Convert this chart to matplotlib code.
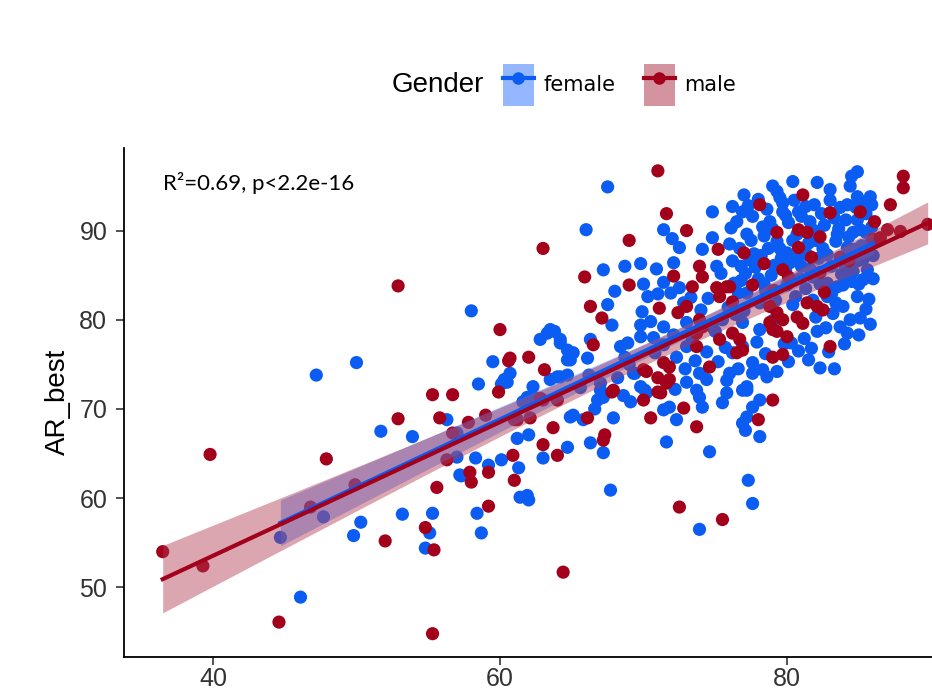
import numpy as np
import matplotlib
matplotlib.use('Agg')
import matplotlib.pyplot as plt
from matplotlib.patches import Patch
from matplotlib.lines import Line2D

plt.rcParams['font.family'] = ['Liberation Sans', 'DejaVu Sans']

# (x, AR_best)
female_pts = [
    (44.7, 55.6), (46.1, 48.9), (47.7, 57.9), (51.7, 67.5), (53.9, 66.9), (50.3, 57.3), (49.8, 55.8),
    (53.2, 58.2), (55.3, 58.3), (55.1, 56.1), (54.8, 54.4), (56.3, 68.8), (57.0, 67.3), (57.0, 64.6),
    (57.3, 62.5), (58.3, 64.5), (59.2, 63.7), (60.1, 64.3), (58.4, 58.3), (58.7, 56.1), (61.2, 66.7),
    (61.3, 63.4), (61.4, 60.1), (47.2, 73.8), (50.0, 75.2), (58.0, 81.0), (59.5, 75.3), (58.5, 72.8),
    (60.1, 72.8), (60.5, 73.0), (63.3, 78.5),
    (67.5, 94.9), (66.0, 90.1), (71.4, 90.1), (72.0, 89.1), (72.5, 88.1), (74.8, 92.1), (76.2, 92.7),
    (74.8, 89.2), (74.1, 87.9), (67.2, 85.6), (68.7, 86.0), (69.8, 86.3), (70.9, 85.7), (72.1, 86.4),
    (71.4, 84.2), (75.1, 86.0), (67.5, 81.7), (67.8, 79.4), (70.3, 82.6), (69.9, 80.9), (69.8, 79.4),
    (70.5, 79.8), (71.9, 83.0), (72.8, 81.9), (73.0, 79.7), (66.3, 77.8), (68.9, 77.4), (70.7, 78.0),
    (63.5, 78.9), (63.8, 78.7), (64.2, 77.8), (64.7, 76.6), (64.9, 75.5), (62.8, 77.8), (66.1, 75.7),
    (60.3, 73.3), (60.7, 74.0), (62.3, 72.5), (63.5, 73.3), (64.0, 73.6), (64.7, 73.8), (61.9, 71.3),
    (68.4, 77.0), (68.7, 75.8), (69.8, 78.1), (71.4, 79.2), (69.4, 74.0), (69.8, 72.5), (70.2, 71.8),
    (67.0, 72.9), (67.2, 71.3), (72.3, 75.8), (73.0, 77.0), (73.4, 77.8), (73.9, 74.0), (74.4, 73.3),
    (73.9, 71.3), (74.8, 79.2), (75.5, 80.0), (76.2, 76.3), (76.9, 77.0), (77.6, 75.2), (78.3, 74.4),
    (75.8, 71.8), (77.2, 72.5), (78.1, 71.0),
    (84.9, 96.6), (84.5, 96.1), (80.4, 95.5), (83.0, 94.6), (84.9, 93.8), (79.3, 94.4), (79.5, 93.7),
    (79.7, 93.1), (79.7, 92.1), (80.8, 92.1), (81.0, 91.6), (83.7, 92.6), (84.2, 92.9), (84.9, 91.2),
    (85.1, 90.1), (84.6, 89.8), (81.6, 91.0), (78.3, 90.4), (77.6, 91.6), (76.9, 92.1), (82.1, 78.7),
    (83.7, 79.2), (84.2, 78.5), (85.1, 80.2), (84.9, 82.6), (85.3, 84.5), (85.6, 85.6), (83.5, 83.7),
    (83.9, 81.5), (82.8, 82.6), (77.2, 83.0), (78.1, 81.9), (76.9, 79.7), (78.1, 78.9),
    (81.5, 75.5), (82.3, 74.6), (83.3, 74.5), (80.1, 75.3), (79.3, 74.2), (78.6, 73.6), (77.6, 74.0),
    (77.2, 72.1), (77.6, 70.2), (77.2, 69.1), (77.1, 67.6), (78.1, 66.9), (77.3, 62.0), (77.6, 59.4),
    (67.7, 60.9), (73.9, 56.5), (74.6, 65.2), (71.6, 66.3), (75.5, 70.7), (72.3, 68.8), (71.4, 69.9),
    (67.2, 65.1), (66.3, 66.2), (65.8, 68.8), (67.9, 69.0), (65.1, 69.3), (69.3, 74.0), (70.1, 72.1),
    (69.1, 70.8), (66.8, 71.0), (67.0, 72.1), (73.7, 72.1), (74.1, 70.2), (71.8, 70.2), (76.9, 72.1),
    (76.9, 68.4), (76.0, 74.0),
    (64.2, 73.6), (64.7, 75.5), (65.1, 76.3), (64.2, 77.4), (61.6, 70.8), (62.3, 71.3), (62.0, 67.1),
    (64.9, 69.1), (64.7, 65.7), (63.0, 64.5), (57.2, 62.6), (61.9, 60.3), (62.0, 59.8),
    # dense cluster
    (76.0, 88.5), (76.8, 86.0), (77.5, 88.9), (78.2, 87.2), (78.9, 85.0), (79.5, 88.0), (80.2, 86.4),
    (80.9, 84.6), (81.5, 88.6), (82.2, 86.9), (82.8, 84.1), (83.4, 88.8), (84.0, 86.2), (84.7, 87.9),
    (85.3, 86.8), (85.8, 88.6), (76.3, 84.1), (77.0, 81.0), (77.8, 85.9), (78.5, 83.3), (79.2, 82.2),
    (80.0, 83.9), (80.6, 82.6), (81.3, 83.5), (82.0, 80.3), (82.7, 79.1), (83.2, 80.7), (84.4, 80.0),
    (85.0, 84.0), (85.7, 82.3), (76.1, 90.3), (77.2, 89.6), (78.8, 91.0), (80.1, 90.9), (81.9, 92.9),
    (82.6, 90.6), (83.3, 91.4), (84.3, 89.3), (85.5, 91.9), (85.9, 90.4), (75.4, 85.2), (75.9, 81.4),
    (76.6, 83.0), (77.4, 86.7), (78.0, 84.6), (78.7, 88.0), (79.6, 86.9), (80.4, 88.9), (81.0, 86.0),
    (81.8, 84.8), (82.5, 88.0), (83.1, 86.0), (83.8, 85.1), (84.5, 84.3), (85.2, 88.3), (79.0, 79.9),
    (80.3, 77.4), (81.2, 77.9), (81.7, 76.8), (82.9, 76.4), (84.0, 77.3), (85.0, 78.3), (85.8, 79.5),
    (74.5, 82.4), (74.0, 81.1), (75.0, 78.7), (76.4, 80.6), (73.3, 82.5), (72.5, 83.6), (71.0, 82.9),
    (70.0, 84.0), (68.0, 83.2), (74.4, 76.4), (75.2, 75.3), (75.7, 76.9), (72.9, 74.5), (72.2, 72.2),
    (73.0, 73.0), (71.4, 77.2), (72.1, 78.3), (69.0, 75.0), (68.2, 73.5), (66.2, 73.8), (65.6, 72.4),
    (66.6, 70.0), (68.6, 71.5), (70.8, 76.3), (73.6, 75.4), (75.8, 73.2), (76.6, 74.5), (77.9, 77.5),
    (78.5, 76.2), (79.8, 77.3), (80.8, 76.5),
    (76.5, 91.0), (77.3, 92.8), (78.0, 93.5), (78.6, 92.4), (79.0, 90.2), (79.9, 91.7), (80.5, 93.4),
    (81.3, 92.7), (81.9, 90.0), (82.4, 91.9), (83.0, 93.4), (83.6, 90.2), (84.1, 91.2), (84.8, 92.6),
    (85.4, 93.2), (85.9, 92.9), (76.7, 88.0), (77.7, 87.4), (78.4, 89.4), (79.3, 88.8), (80.0, 87.5),
    (80.7, 89.6), (81.4, 87.3), (82.0, 88.9), (82.8, 87.3), (83.5, 89.6), (84.2, 88.1), (84.9, 86.6),
    (85.5, 89.8), (86.0, 87.2), (76.2, 86.6), (77.1, 85.2), (78.1, 86.6), (79.1, 86.1), (79.9, 85.6),
    (80.8, 87.1), (81.6, 85.7), (82.3, 84.0), (83.1, 82.9), (83.9, 83.9), (84.6, 85.4), (85.3, 87.5),
    (76.8, 84.4), (78.4, 84.0), (80.4, 81.7), (81.8, 82.2), (83.4, 81.9), (85.5, 81.2), (86.0, 84.6),
    (85.8, 93.8), (84.4, 95.0), (82.1, 95.4), (79.0, 95.0), (77.0, 94.0),
]

male_pts = [
    (36.5, 54.0), (39.3, 52.4), (39.8, 64.9), (44.6, 46.1), (47.9, 64.4), (49.9, 61.5), (46.8, 59.0),
    (52.0, 55.2), (52.9, 68.9), (54.8, 56.7), (55.4, 54.2), (55.3, 44.8), (55.6, 61.2), (56.3, 64.3),
    (56.7, 67.3), (55.8, 69.0), (57.8, 68.5), (59.0, 69.3), (57.9, 62.9), (59.2, 62.9), (58.0, 61.8),
    (59.2, 59.1), (60.9, 64.8), (61.0, 62.0), (61.0, 68.8), (52.9, 83.8), (60.0, 78.9), (60.6, 75.4),
    (55.3, 71.6), (56.7, 71.6), (59.9, 71.9),
    (63.0, 88.0), (71.0, 96.7), (71.6, 91.9), (73.0, 90.0), (69.0, 88.9), (65.9, 84.8), (69.0, 83.9),
    (72.1, 84.9), (73.9, 86.0), (74.1, 84.8), (73.4, 83.7), (75.1, 83.6), (75.2, 87.9), (66.3, 81.5),
    (67.1, 80.2), (71.1, 81.3), (72.4, 80.8), (73.9, 80.0), (76.0, 83.7), (76.2, 82.0), (66.5, 77.2),
    (60.7, 75.7), (62.0, 75.8), (63.1, 74.4), (70.0, 74.4), (71.0, 73.5), (71.2, 71.8), (71.6, 72.9),
    (67.9, 72.1), (74.6, 74.7), (73.7, 78.5), (74.1, 79.2), (76.2, 78.5), (76.7, 77.8), (75.3, 77.8),
    (79.0, 71.0), (76.5, 76.3), (62.8, 71.2),
    (88.1, 96.1), (88.1, 94.8), (81.1, 94.0), (78.1, 92.9), (87.2, 92.9), (83.0, 92.0), (85.1, 92.1),
    (86.1, 91.0), (87.0, 90.1), (87.9, 89.9), (89.8, 90.7), (79.3, 89.8), (81.4, 89.8), (82.3, 89.3),
    (80.8, 90.1), (86.0, 89.0), (86.5, 89.2), (80.8, 88.1), (81.7, 87.0), (79.7, 85.6), (77.6, 83.9),
    (82.3, 85.3), (83.7, 87.0), (78.8, 81.5), (79.3, 80.8), (79.7, 80.0), (81.4, 81.9), (82.1, 81.5),
    (82.5, 81.1), (80.7, 80.3), (81.1, 79.6), (79.3, 78.7), (80.0, 78.1), (83.0, 77.0),
    (79.7, 76.1), (79.0, 75.8), (78.0, 68.8), (75.8, 83.7), (75.3, 82.6), (78.8, 79.7), (79.0, 78.9),
    (73.0, 81.5), (77.0, 87.5), (78.4, 86.3), (80.1, 84.8), (82.6, 83.1), (84.3, 86.6), (79.1, 83.3),
    (72.5, 59.0), (75.5, 57.6), (73.7, 68.0), (72.8, 70.1), (70.5, 69.0), (67.3, 67.1), (67.2, 66.5),
    (66.1, 69.0), (67.8, 71.9), (70.0, 71.0), (71.0, 71.9), (70.2, 74.2), (71.8, 74.7), (71.8, 73.3),
    (71.4, 75.2), (73.7, 77.0), (76.9, 76.6),
    (63.0, 71.0), (64.0, 71.0), (61.2, 68.8), (62.1, 69.0), (63.7, 67.9), (63.0, 66.0), (64.0, 64.8),
    (64.4, 51.7),
]

groups = ['female', 'male']
colors = {'female': '#0a5cf2', 'male': '#a3001c'}
band_colors = {'female': '#3f7dff', 'male': '#b03a50'}
stat_label = 'R²=0.69, p<2.2e-16'


def fit_band(x, y):
    n = len(x)
    slope, icpt = np.polyfit(x, y, 1)
    xs = np.linspace(x.min(), x.max(), 100)
    res = y - (icpt + slope * x)
    s = np.sqrt((res ** 2).sum() / (n - 2))
    se = s * np.sqrt(1 / n + (xs - x.mean()) ** 2 / ((x - x.mean()) ** 2).sum())
    return xs, icpt + slope * xs, 1.97 * se


fig = plt.figure(figsize=(9.32, 6.9), dpi=100)
ax = fig.add_axes([0.133, 0.048, 0.867, 0.738])

data = {'female': np.array(female_pts), 'male': np.array(male_pts)}
for g in groups:
    ax.scatter(data[g][:, 0], data[g][:, 1], s=90, color=colors[g], edgecolors='none', zorder=2)

for g in groups:
    xs, ys, ci = fit_band(data[g][:, 0], data[g][:, 1])
    ax.fill_between(xs, ys - ci, ys + ci, color=band_colors[g], alpha=0.45, lw=0, zorder=3)
    ax.plot(xs, ys, color=colors[g], lw=3, zorder=4)

ax.set_xlim(33.8, 90.1)
ax.set_ylim(42.2, 99.3)
ax.set_xticks([40, 60, 80])
ax.set_yticks([50, 60, 70, 80, 90])
ax.spines[['top', 'right']].set_visible(False)
for sp in ['left', 'bottom']:
    ax.spines[sp].set_linewidth(1.3)
ax.tick_params(labelsize=18, length=6, width=1.2, colors='#333333', labelcolor='#333333')
ax.tick_params(axis='x', pad=1)
ax.tick_params(axis='y', pad=6)
ax.set_ylabel('AR_best', fontsize=20, labelpad=6)

ax.text(0.048, 0.93, stat_label, transform=ax.transAxes, fontsize=16,
        family=['Lato', 'DejaVu Sans'], va='center')

fig.text(392 / 932, 1 - 85 / 690, 'Gender', fontsize=20, va='center')
handles = [(Patch(facecolor=band_colors[g], alpha=0.55, lw=0),
            Line2D([0], [0], color=colors[g], lw=3, marker='o', ms=8)) for g in groups]
fig.legend(handles, groups, loc='center left', bbox_to_anchor=(484 / 932, 1 - 85 / 690),
           ncol=2, frameon=False, prop={'family': 'DejaVu Sans', 'size': 15},
           handlelength=1.5, handleheight=2.7, handletextpad=0.45, columnspacing=1.35)

fig.savefig('out.png', dpi=100)
